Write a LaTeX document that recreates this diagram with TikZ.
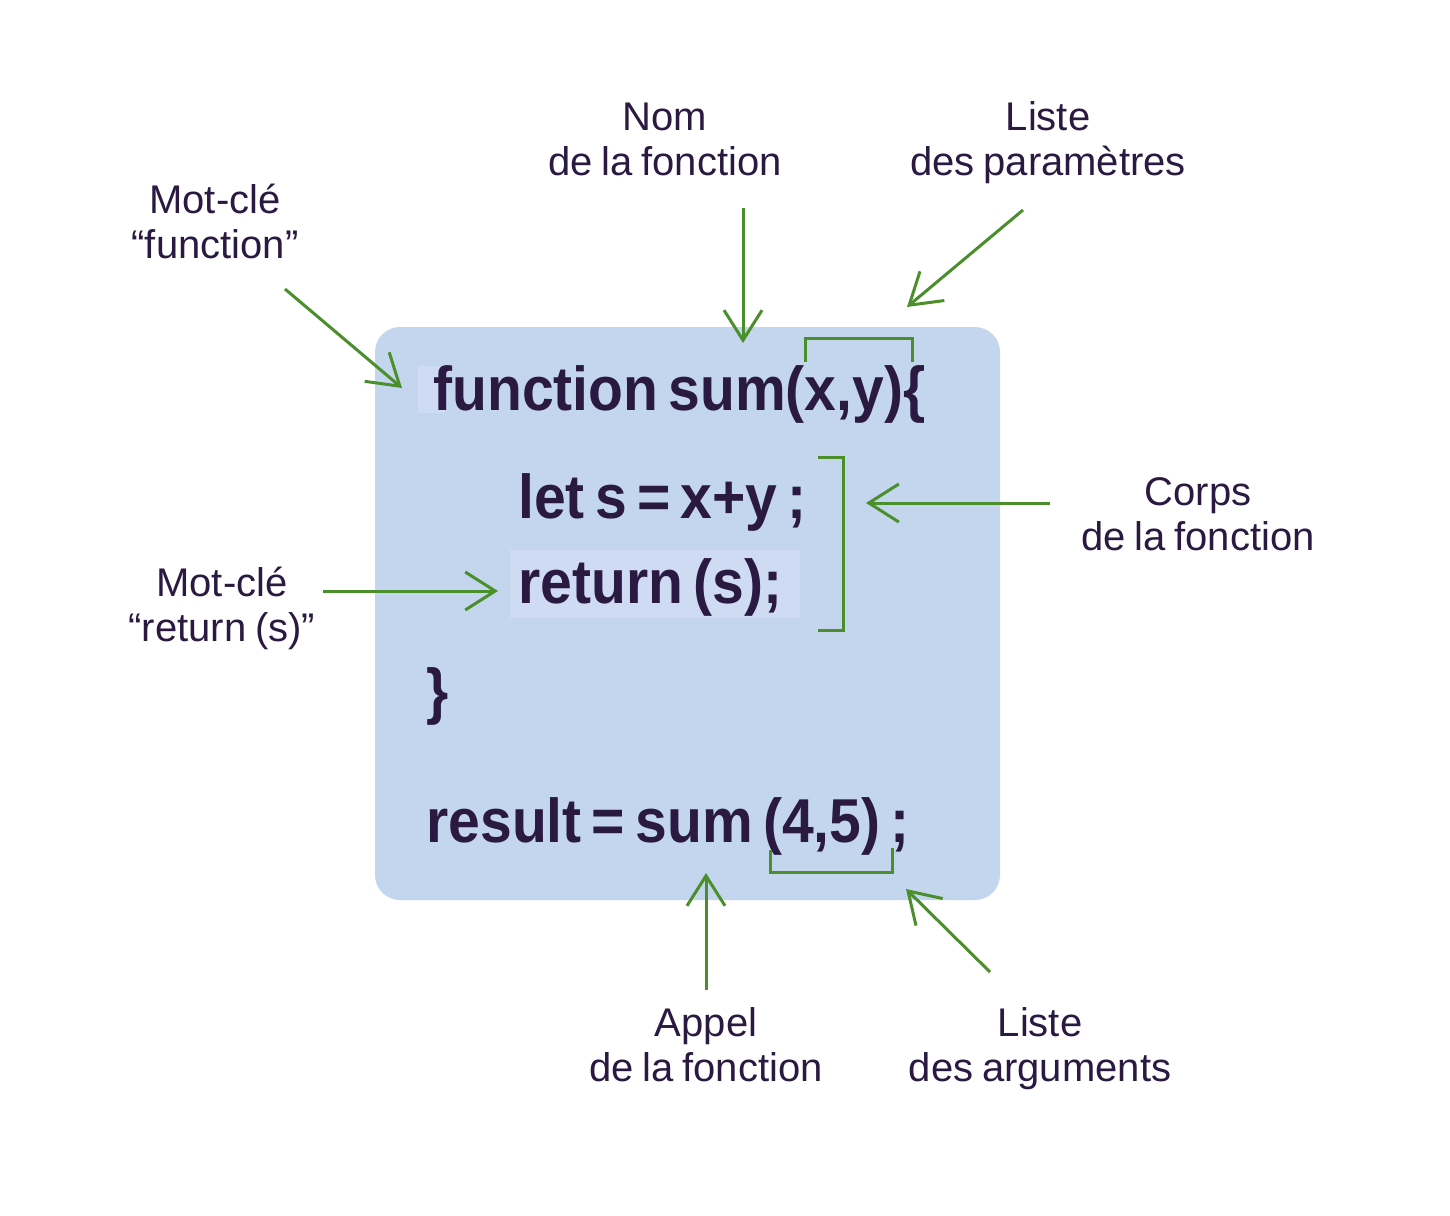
\documentclass[tikz,border=0pt]{standalone}
\usepackage{fontspec}
\setmainfont{Liberation Sans}[WordSpace=0.8]
\newfontfamily\codefont{Liberation Sans Bold}[FakeStretch=0.92,WordSpace=0.65]
\usetikzlibrary{arrows.meta}
\definecolor{boxfill}{RGB}{195,214,238}
\definecolor{hilite}{RGB}{206,219,243}
\definecolor{ink}{RGB}{42,26,66}
\definecolor{leaf}{RGB}{75,143,44}
\tikzset{
  lbl/.style={align=center,text=ink,font=\fontsize{20}{22.5}\selectfont,inner sep=0pt},
  code/.style={text=ink,font=\codefont\fontsize{31}{36}\selectfont,inner sep=0pt,anchor=base west},
  ptr/.style={draw=leaf,line width=1.5pt,-{Straight Barb[length=15pt,width=19pt,line width=1.5pt]}},
  brk/.style={draw=leaf,line width=1.5pt},
}
\begin{document}
\begin{tikzpicture}[x=0.5pt,y=-0.5pt]
\useasboundingbox (0,0) rectangle (1450,1215);
% code box
\fill[boxfill,rounded corners=12.5pt] (375,327) rectangle (1000,900);
\fill[hilite] (418,366) rectangle (445,413);
\fill[hilite] (510,550) rectangle (800,618);
% code lines
\node[code] (l1) at (433,410) {function sum(x,y)\{};
\node[code] (l2) at (518,518) {let s = x+y ;};
\node[code] (l3) at (518,603) {return (s);};
\node[code] (l4) at (426,712) {\}};
\node[code] (l5) at (426,842) {result = sum (4,5) ;};
% brackets
\draw[brk] (805,362) -- (805,338) -- (912,338) -- (912,362);
\draw[brk] (818,457) -- (843,457) -- (843,630) -- (818,630);
\draw[brk] (770,850) -- (770,872) -- (892,872) -- (892,848);
% labels
\node[lbl] (kwf) at (215,227) {\strut Mot-clé\\\strut “function"};
\node[lbl] (nom) at (665,144) {\strut Nom\\\strut de la fonction};
\node[lbl] (par) at (1048,144) {\strut Liste\\\strut des paramètres};
\node[lbl] (corps) at (1198,519) {\strut Corps\\\strut de la fonction};
\node[lbl] (kwr) at (222,610) {\strut Mot-clé\\\strut “return (s)”};
\node[lbl] (appel) at (706,1050) {\strut Appel\\\strut de la fonction};
\node[lbl] (args) at (1040,1050) {\strut Liste\\\strut des arguments};
% arrow ends
\coordinate (a1s) at (285,289); \coordinate (a1e) at (402,388);
\coordinate (a2s) at (743,208); \coordinate (a2e) at (743,343);
\coordinate (a3s) at (1023,210); \coordinate (a3e) at (907,307);
\coordinate (a4s) at (1050,503); \coordinate (a4e) at (866,503);
\coordinate (a5s) at (323,591); \coordinate (a5e) at (498,591);
\coordinate (a6s) at (706,990); \coordinate (a6e) at (706,873);
\coordinate (a7s) at (990,972); \coordinate (a7e) at (906,889);
\draw[ptr] (a1s) -- (a1e);
\draw[ptr] (a2s) -- (a2e);
\draw[ptr] (a3s) -- (a3e);
\draw[ptr] (a4s) -- (a4e);
\draw[ptr] (a5s) -- (a5e);
\draw[ptr] (a6s) -- (a6e);
\draw[ptr] (a7s) -- (a7e);
\end{tikzpicture}
\end{document}
